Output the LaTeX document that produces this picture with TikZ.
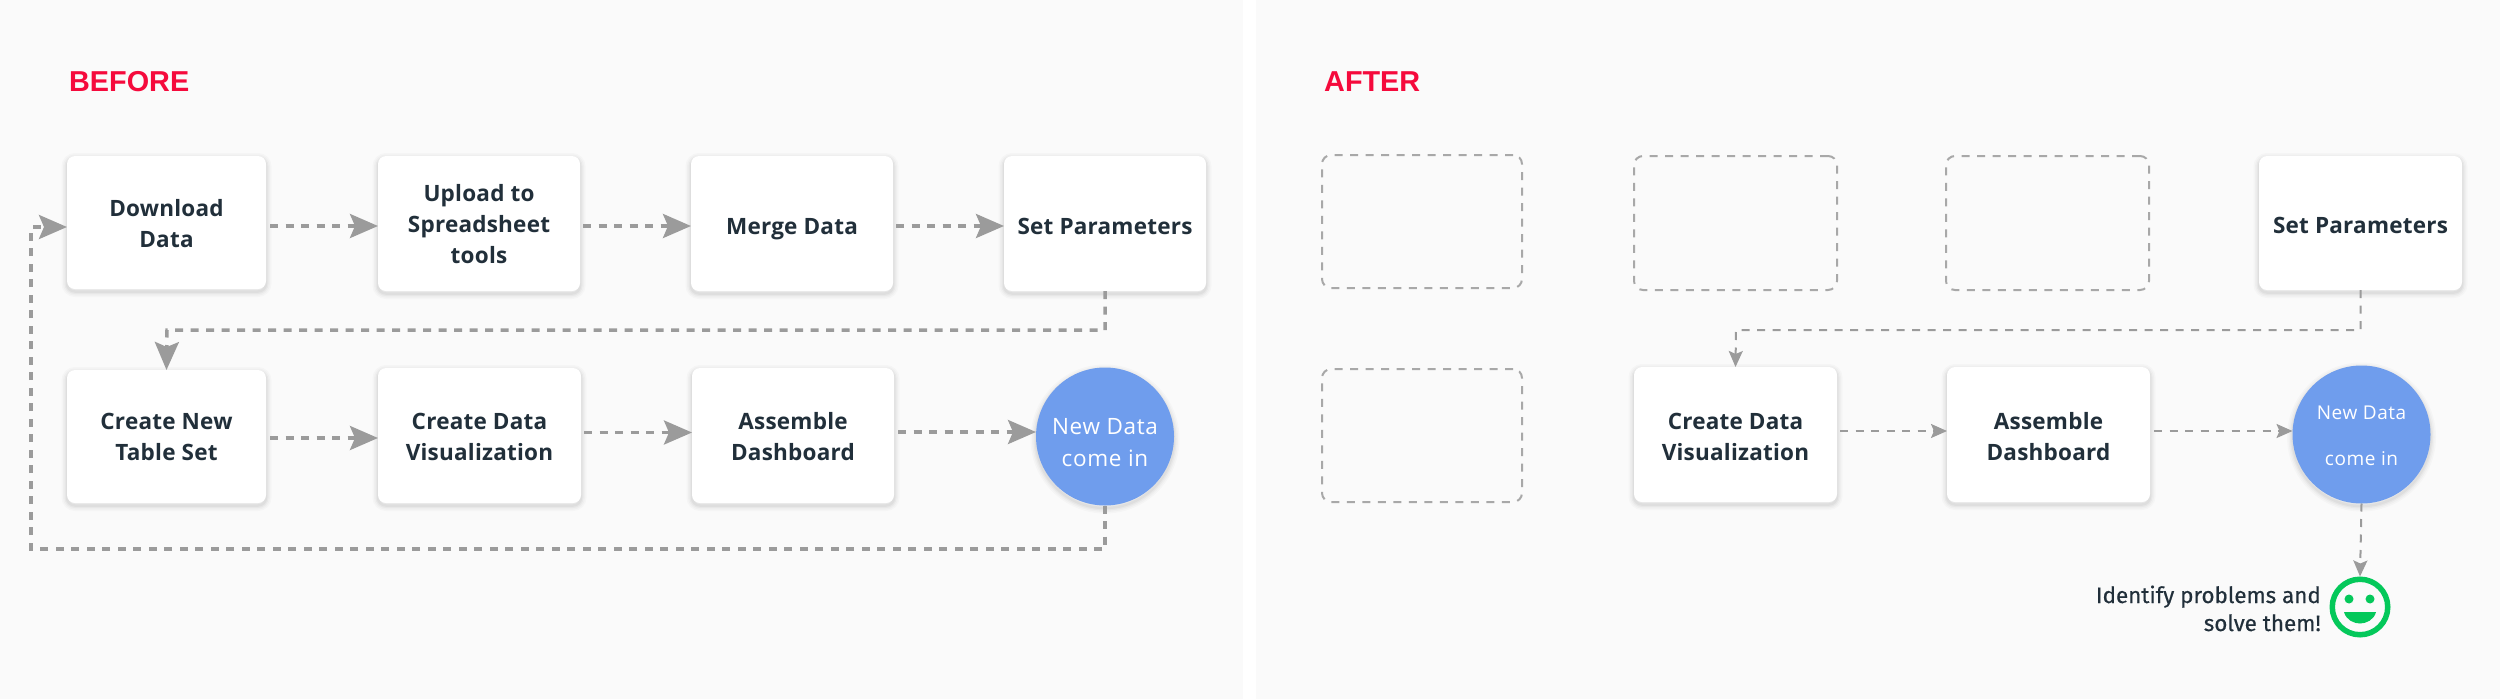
\documentclass[tikz,border=0pt]{standalone}
\usepackage{fontspec}
\setmainfont{Open Sans}[LetterSpace=1]
\newfontfamily\titlefont{Liberation Sans}
\newfontfamily\discfont{Open Sans}[LetterSpace=3]
\newfontfamily\notefont{Fira Sans}[FakeBold=0.45]
\usetikzlibrary{arrows.meta,calc}
\definecolor{panelbg}{HTML}{FAFAFA}
\definecolor{ink}{HTML}{212F3A}
\definecolor{redhead}{HTML}{F50A3C}
\definecolor{bluedisc}{HTML}{6F9DED}
\definecolor{linegrey}{HTML}{9B9B9B}
\definecolor{ghostgrey}{HTML}{A8A8A8}
\definecolor{smilegreen}{HTML}{04C85A}
\newcommand\tb[3]{\rule{0pt}{#1pt}#3\rule[-#2pt]{0pt}{#2pt}}
\tikzset{
  softshadow/.style={
    preaction={draw=black,draw opacity=.018,line width=11pt,transform canvas={yshift=-2.5pt}},
    preaction={draw=black,draw opacity=.022,line width=8pt,transform canvas={yshift=-2.5pt}},
    preaction={draw=black,draw opacity=.03,line width=5pt,transform canvas={yshift=-2.5pt}},
    preaction={draw=black,draw opacity=.035,line width=2.5pt,transform canvas={yshift=-2.5pt}}},
  card/.style={softshadow,fill=white,rounded corners=8pt,inner sep=0pt,outer sep=0pt,
    align=center,text=ink,font=\fontsize{22.5}{31}\selectfont\bfseries,anchor=north west},
  ghost/.style={draw=ghostgrey,line width=2pt,dash pattern=on 8pt off 7.5pt,rounded corners=9pt,
    inner sep=0pt,outer sep=0pt,anchor=north west},
  disc/.style={softshadow,circle,fill=bluedisc,inner sep=0pt,outer sep=0pt,minimum size=138pt,
    align=center,text=white},
  heavy/.style={draw=linegrey,line width=3.5pt,dash pattern=on 8pt off 7.5pt,
    -{Stealth[length=28pt,width=24pt,inset=5pt]}},
  light/.style={draw=linegrey,line width=2pt,dash pattern=on 8pt off 7.5pt,
    -{Stealth[length=16pt,width=14pt,inset=3pt]}},
  headline/.style={text=redhead,anchor=base west,inner sep=0pt,font=\titlefont\fontsize{28.8}{32}\selectfont\bfseries},
}
\begin{document}
\begin{tikzpicture}[x=1pt,y=-1pt]
\useasboundingbox (0,0) rectangle (2500,699);
\fill[white] (0,0) rectangle (2500,699);
\fill[panelbg] (0,0) rectangle (1243,699);
\fill[panelbg] (1256,0) rectangle (2500,699);

\node[headline] (before) at (69,91) {BEFORE};
\node[headline] (after) at (1324,91) {AFTER};

% BEFORE
\node[card,minimum width=199pt,minimum height=133pt] (dl) at (67,156) {\tb{20}{0}{Download\\Data}};
\node[card,minimum width=202pt,minimum height=135pt] (up) at (378,156) {\tb{19}{0}{Upload to\\Spreadsheet\\tools}};
\node[card,minimum width=202pt,minimum height=135pt] (mg) at (691,156) {\tb{27}{6}{Merge Data}};
\node[card,minimum width=202pt,minimum height=135pt] (sp) at (1004,156) {\tb{27}{6}{Set Parameters}};
\node[card,minimum width=199pt,minimum height=133pt] (cn) at (67,370) {\tb{17}{0}{Create New\\Table Set}};
\node[card,minimum width=203pt,minimum height=135pt] (cd) at (378,368) {\tb{19}{0}{Create Data\\Visualization}};
\node[card,minimum width=202pt,minimum height=135pt] (as) at (692,368) {\tb{19}{0}{Assemble\\Dashboard}};
\node[disc,font=\discfont\fontsize{22.5}{32}\selectfont] (nd) at (1105,436.5) {\tb{29}{0}{New Data\\come in}};

\coordinate (b1) at (167,330);
\coordinate (l1) at (31,549);

\draw[heavy,shorten <=4pt] ([yshift=-3.5pt]dl.east) -- ([yshift=-2.5pt]up.west);
\draw[heavy,shorten <=3pt] ([yshift=-2.5pt]up.east) -- ([yshift=-2.5pt]mg.west);
\draw[heavy,shorten <=3pt] ([yshift=-2.5pt]mg.east) -- ([yshift=-2.5pt]sp.west);
\draw[heavy] (sp.south) |- (b1) -- (cn.north);
\draw[heavy,shorten <=4pt] ([yshift=-1.5pt]cn.east) -- ([yshift=-2.5pt]cd.west);
\draw[heavy,shorten <=3pt] ([yshift=3pt]cd.east) -- ([yshift=3pt]as.west);
\draw[heavy,shorten <=4pt] ([yshift=3.5pt]as.east) -- ([yshift=4.5pt]nd.west);
\draw[heavy] (nd.south) |- (l1) |- ([yshift=-4.5pt]dl.west);

% AFTER
\node[ghost,minimum width=200pt,minimum height=133pt] (g1) at (1322,155) {};
\node[ghost,minimum width=203pt,minimum height=134pt] (g2) at (1634,156) {};
\node[ghost,minimum width=203pt,minimum height=134pt] (g3) at (1946,156) {};
\node[ghost,minimum width=200pt,minimum height=133pt] (g4) at (1322,369) {};

\node[card,minimum width=203pt,minimum height=134pt] (sp2) at (2259,156) {\tb{27}{6}{Set Parameters}};
\node[card,minimum width=203pt,minimum height=135pt] (cd2) at (1634,367) {\tb{21}{0}{Create Data\\Visualization}};
\node[card,minimum width=203pt,minimum height=135pt] (as2) at (1947,367) {\tb{21}{0}{Assemble\\Dashboard}};
\node[disc,font=\discfont\fontsize{19}{46}\selectfont] (nd2) at (2361.5,434.5) {\tb{19}{4}{New Data\\come in}};

\node[circle,draw=smilegreen,line width=5.5pt,inner sep=0pt,minimum size=55.5pt] (sm) at (2360,607) {};
\fill[smilegreen] (2349,599) circle[radius=4.5pt] (2370,599) circle[radius=4.5pt];
\fill[smilegreen] (2344,612) -- (2376,612) .. controls (2374,620) and (2366,623.5) .. (2360,623.5)
  .. controls (2354,623.5) and (2346,620) .. (2344,612) -- cycle;

\node[anchor=east,align=right,inner sep=0pt,text=ink,font=\notefont\fontsize{22.4}{28}\selectfont] (nt) at (2321,610)
  {\tb{20}{6}{Identify problems and\\solve them!}};

\coordinate (b2) at (1736,330);
\draw[light] (sp2.south) |- (b2) -- (cd2.north);
\draw[light,shorten <=3pt] ([yshift=3.5pt]cd2.east) -- ([yshift=3.5pt]as2.west);
\draw[light,shorten <=4pt] ([yshift=3.5pt]as2.east) -- ([yshift=3.5pt]nd2.west);
\draw[light] (nd2.south) -- (sm.north);
\end{tikzpicture}
\end{document}
